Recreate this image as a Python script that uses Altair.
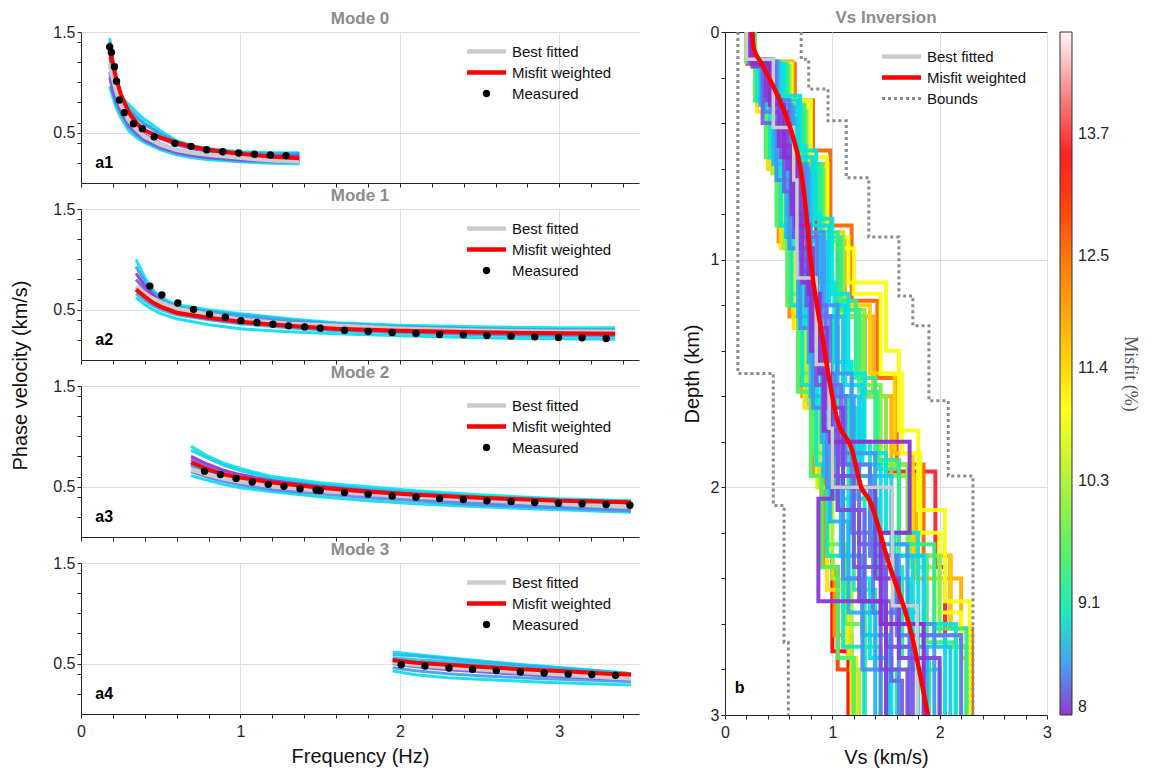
import altair as alt
import pandas as pd

FONT = "Liberation Sans"
SERIF = "Liberation Serif"

# ---------------- colour bar (misfit %) ----------------
MISFIT_STOPS = [8.0, 8.3, 8.6, 8.8, 9.1, 9.6, 10.3, 11.0, 11.4, 12.0, 12.5, 13.1, 13.35, 13.7, 14.2, 14.7]
MISFIT_COLORS = ["#8e2fd0", "#6a6ef0", "#27b4f0", "#00e5e5", "#20e8a8", "#50f060", "#b4f030", "#ffff10",
                 "#ffd700", "#ff9d00", "#ff7000", "#ff2a00", "#ff0000", "#f5333a", "#f89898", "#fff5f5"]
MISFIT_TICKS = [8, 9.1, 10.3, 11.4, 12.5, 13.7]

# ---------------- Mode 0 ----------------
M0_FREQ = [0.18, 0.2, 0.22, 0.25, 0.3, 0.35, 0.4, 0.5, 0.6, 0.7, 0.8, 1.0, 1.2, 1.37]
M0_ENS_MISFIT = [8.8, 8.6, 8.1, 8.0, 8.4, 8.75, 8.5, 8.2]
M0_ENS = [
    [1.44, 1.20, 1.00, 0.86, 0.78, 0.70, 0.63, 0.52, 0.42, 0.37, 0.34, 0.31, 0.30, 0.30],
    [1.38, 1.15, 0.98, 0.82, 0.72, 0.64, 0.58, 0.48, 0.40, 0.35, 0.32, 0.29, 0.28, 0.28],
    [1.40, 1.22, 1.05, 0.88, 0.70, 0.60, 0.53, 0.44, 0.38, 0.34, 0.31, 0.28, 0.27, 0.27],
    [1.30, 1.10, 0.95, 0.80, 0.64, 0.55, 0.48, 0.39, 0.33, 0.29, 0.27, 0.24, 0.23, 0.225],
    [1.10, 0.95, 0.84, 0.72, 0.58, 0.50, 0.44, 0.36, 0.30, 0.27, 0.25, 0.22, 0.21, 0.205],
    [0.96, 0.85, 0.75, 0.65, 0.52, 0.45, 0.40, 0.33, 0.28, 0.25, 0.23, 0.21, 0.195, 0.19],
    [1.25, 1.08, 0.96, 0.84, 0.74, 0.66, 0.59, 0.49, 0.41, 0.36, 0.33, 0.30, 0.29, 0.29],
    [1.05, 0.90, 0.80, 0.70, 0.56, 0.48, 0.42, 0.35, 0.30, 0.27, 0.25, 0.23, 0.22, 0.215],
]
M0_BEST = [1.19, 1.05, 0.92, 0.78, 0.62, 0.53, 0.46, 0.38, 0.33, 0.30, 0.28, 0.25, 0.225, 0.215]
M0_WEIGHTED = [1.32, 1.18, 1.04, 0.88, 0.70, 0.59, 0.52, 0.45, 0.40, 0.36, 0.33, 0.29, 0.26, 0.245]
M0_MEAS_F = [0.180, 0.191, 0.210, 0.223, 0.241, 0.271, 0.329, 0.385, 0.459, 0.589, 0.690, 0.788,
             0.889, 0.989, 1.088, 1.188, 1.286]
M0_MEAS_V = [1.351, 1.298, 1.156, 1.010, 0.825, 0.699, 0.589, 0.540, 0.460, 0.394, 0.364, 0.330,
             0.311, 0.298, 0.285, 0.278, 0.272]

# ---------------- Mode 1 ----------------
M1_FREQ = [0.345, 0.4, 0.45, 0.5, 0.6, 0.8, 1.0, 1.3, 1.6, 2.0, 2.5, 3.0, 3.35]
M1_ENS_MISFIT = [8.8, 8.5, 8.0, 8.2, 8.6, 8.75, 8.65, 8.3]
M1_ENS = [
    [1.00, 0.82, 0.70, 0.62, 0.55, 0.50, 0.46, 0.41, 0.37, 0.345, 0.33, 0.32, 0.32],
    [0.93, 0.78, 0.68, 0.60, 0.53, 0.48, 0.44, 0.39, 0.36, 0.33, 0.31, 0.30, 0.30],
    [0.86, 0.74, 0.65, 0.58, 0.51, 0.45, 0.41, 0.37, 0.34, 0.31, 0.29, 0.28, 0.275],
    [0.80, 0.70, 0.62, 0.56, 0.49, 0.43, 0.39, 0.35, 0.32, 0.30, 0.28, 0.27, 0.265],
    [0.66, 0.59, 0.54, 0.50, 0.45, 0.40, 0.36, 0.32, 0.29, 0.27, 0.25, 0.24, 0.235],
    [0.62, 0.55, 0.50, 0.46, 0.41, 0.35, 0.31, 0.28, 0.26, 0.24, 0.22, 0.21, 0.207],
    [0.72, 0.66, 0.60, 0.56, 0.52, 0.48, 0.45, 0.40, 0.36, 0.33, 0.31, 0.30, 0.295],
    [0.70, 0.62, 0.56, 0.52, 0.46, 0.41, 0.37, 0.33, 0.30, 0.28, 0.26, 0.25, 0.245],
]
M1_BEST = [0.73, 0.66, 0.61, 0.57, 0.51, 0.45, 0.40, 0.36, 0.34, 0.31, 0.29, 0.28, 0.28]
M1_WEIGHTED = [0.70, 0.63, 0.57, 0.53, 0.47, 0.42, 0.38, 0.34, 0.31, 0.29, 0.275, 0.265, 0.26]
M1_MEAS_F = [0.432, 0.507, 0.607, 0.706, 0.806, 0.905, 1.003, 1.103, 1.204, 1.302, 1.403, 1.501,
             1.653, 1.801, 1.952, 2.101, 2.249, 2.398, 2.546, 2.698, 2.846, 2.995, 3.143, 3.294]
M1_MEAS_V = [0.734, 0.645, 0.566, 0.503, 0.454, 0.424, 0.391, 0.372, 0.355, 0.339, 0.329, 0.316,
             0.296, 0.283, 0.273, 0.263, 0.253, 0.250, 0.243, 0.237, 0.230, 0.224, 0.220, 0.214]

# ---------------- Mode 2 ----------------
M2_FREQ = [0.69, 0.8, 0.9, 1.0, 1.2, 1.5, 1.8, 2.1, 2.5, 3.0, 3.45]
M2_ENS_MISFIT = [8.8, 8.7, 8.0, 8.2, 8.5, 8.4, 8.75, 8.6]
M2_ENS = [
    [0.90, 0.80, 0.73, 0.68, 0.60, 0.54, 0.50, 0.46, 0.42, 0.38, 0.36],
    [0.86, 0.78, 0.71, 0.66, 0.58, 0.52, 0.48, 0.44, 0.40, 0.37, 0.35],
    [0.80, 0.72, 0.66, 0.62, 0.56, 0.50, 0.46, 0.42, 0.38, 0.34, 0.32],
    [0.77, 0.69, 0.63, 0.59, 0.54, 0.48, 0.44, 0.41, 0.37, 0.33, 0.31],
    [0.72, 0.65, 0.60, 0.56, 0.51, 0.46, 0.42, 0.38, 0.34, 0.30, 0.28],
    [0.65, 0.59, 0.55, 0.52, 0.47, 0.43, 0.39, 0.36, 0.32, 0.29, 0.26],
    [0.61, 0.56, 0.52, 0.49, 0.45, 0.40, 0.36, 0.33, 0.30, 0.27, 0.245],
    [0.70, 0.66, 0.62, 0.59, 0.55, 0.51, 0.47, 0.44, 0.40, 0.37, 0.35],
]
M2_BEST = [0.67, 0.62, 0.58, 0.55, 0.51, 0.46, 0.43, 0.40, 0.37, 0.33, 0.30]
M2_WEIGHTED = [0.74, 0.67, 0.62, 0.59, 0.54, 0.49, 0.45, 0.42, 0.39, 0.36, 0.345]
M2_MEAS_F = [0.775, 0.875, 0.973, 1.074, 1.175, 1.273, 1.374, 1.475, 1.501, 1.653, 1.801, 1.952,
             2.101, 2.249, 2.398, 2.546, 2.698, 2.846, 2.995, 3.143, 3.294, 3.443]
M2_MEAS_V = [0.654, 0.621, 0.582, 0.546, 0.523, 0.503, 0.480, 0.467, 0.461, 0.441, 0.425, 0.408,
             0.395, 0.382, 0.372, 0.359, 0.352, 0.343, 0.336, 0.330, 0.323, 0.316]

# ---------------- Mode 3 ----------------
M3_FREQ = [1.955, 2.1, 2.3, 2.5, 2.7, 2.9, 3.1, 3.3, 3.45]
M3_ENS_MISFIT = [8.8, 8.6, 8.0, 8.2, 8.5, 8.75, 8.65]
M3_ENS = [
    [0.615, 0.59, 0.56, 0.53, 0.50, 0.475, 0.45, 0.425, 0.40],
    [0.59, 0.575, 0.55, 0.52, 0.495, 0.47, 0.445, 0.42, 0.40],
    [0.54, 0.51, 0.48, 0.455, 0.435, 0.415, 0.395, 0.375, 0.36],
    [0.50, 0.47, 0.44, 0.42, 0.40, 0.38, 0.365, 0.35, 0.34],
    [0.46, 0.43, 0.40, 0.38, 0.365, 0.35, 0.34, 0.33, 0.32],
    [0.428, 0.39, 0.36, 0.345, 0.33, 0.315, 0.305, 0.295, 0.287],
    [0.56, 0.54, 0.52, 0.50, 0.48, 0.46, 0.44, 0.42, 0.40],
]
M3_BEST = [0.516, 0.49, 0.465, 0.445, 0.425, 0.405, 0.385, 0.365, 0.352]
M3_WEIGHTED = [0.533, 0.51, 0.49, 0.47, 0.45, 0.435, 0.42, 0.40, 0.392]
M3_MEAS_F = [2.008, 2.157, 2.308, 2.456, 2.605, 2.756, 2.905, 3.056, 3.204, 3.353]
M3_MEAS_V = [0.490, 0.477, 0.457, 0.444, 0.431, 0.418, 0.408, 0.398, 0.392, 0.385]

# ---------------- Vs inversion (layered models) ----------------
MODEL_MISFIT = [8.00, 8.05, 8.10, 8.20, 8.25, 8.35, 8.45, 8.50, 8.60, 8.70, 8.85, 8.95, 9.05,
                9.15, 9.30, 9.60, 9.90, 10.2, 10.9, 11.3, 11.5, 12.2, 12.6, 13.3, 13.6, 14.2,
                8.15, 8.30, 8.40, 8.55, 8.65, 8.75, 8.80, 8.90, 9.00, 9.20, 9.40, 9.80, 10.0,
                10.6, 11.0, 11.8, 12.9]
MODEL_DEPTHS = [
    [0, 0.14, 0.32, 0.55, 0.85, 1.15, 1.5, 1.8, 2.2, 2.6, 3.0],
    [0, 0.12, 0.28, 0.5, 0.8, 1.1, 1.4, 1.75, 2.05, 2.5, 3.0],
    [0, 0.15, 0.35, 0.6, 0.95, 1.3, 1.65, 2.0, 2.4, 2.75, 3.0],
    [0, 0.13, 0.3, 0.55, 0.9, 1.2, 1.55, 1.95, 2.35, 2.7, 3.0],
    [0, 0.14, 0.4, 0.7, 1.0, 1.35, 1.7, 2.1, 2.5, 2.85, 3.0],
    [0, 0.13, 0.3, 0.6, 0.9, 1.25, 1.6, 1.9, 2.3, 2.65, 3.0],
    [0, 0.15, 0.35, 0.65, 0.95, 1.3, 1.65, 2.0, 2.4, 2.8, 3.0],
    [0, 0.12, 0.32, 0.58, 0.88, 1.2, 1.5, 1.85, 2.25, 2.6, 3.0],
    [0, 0.14, 0.3, 0.5, 0.8, 1.1, 1.45, 1.8, 2.15, 2.55, 3.0],
    [0, 0.13, 0.38, 0.62, 0.92, 1.25, 1.6, 1.95, 2.3, 2.7, 3.0],
    [0, 0.14, 0.28, 0.52, 0.82, 1.15, 1.5, 1.85, 2.2, 2.6, 3.0],
    [0, 0.12, 0.3, 0.55, 0.85, 1.2, 1.55, 1.9, 2.3, 2.7, 3.0],
    [0, 0.15, 0.35, 0.6, 0.9, 1.25, 1.6, 2.0, 2.35, 2.75, 3.0],
    [0, 0.13, 0.3, 0.6, 0.95, 1.3, 1.7, 2.05, 2.45, 2.8, 3.0],
    [0, 0.14, 0.33, 0.58, 0.88, 1.18, 1.52, 1.88, 2.25, 2.62, 3.0],
    [0, 0.13, 0.3, 0.55, 0.85, 1.2, 1.58, 1.95, 2.35, 2.75, 3.0],
    [0, 0.15, 0.35, 0.6, 0.9, 1.22, 1.55, 1.9, 2.3, 2.65, 3.0],
    [0, 0.12, 0.32, 0.62, 0.95, 1.28, 1.62, 2.0, 2.4, 2.8, 3.0],
    [0, 0.14, 0.3, 0.55, 0.9, 1.1, 1.4, 1.75, 2.1, 2.5, 3.0],
    [0, 0.13, 0.35, 0.6, 0.95, 1.3, 1.65, 2.0, 2.45, 2.75, 3.0],
    [0, 0.15, 0.32, 0.58, 0.88, 1.2, 1.5, 1.85, 2.3, 2.6, 3.0],
    [0, 0.13, 0.32, 0.6, 0.92, 1.25, 1.6, 1.95, 2.35, 2.65, 3.0],
    [0, 0.14, 0.3, 0.52, 0.85, 1.18, 1.52, 1.9, 2.3, 2.62, 3.0],
    [0, 0.13, 0.3, 0.55, 0.85, 1.2, 1.55, 1.9, 2.3, 2.72, 3.0],
    [0, 0.14, 0.32, 0.6, 0.9, 1.25, 1.6, 1.93, 2.35, 2.7, 3.0],
    [0, 0.15, 0.38, 0.62, 0.95, 1.3, 1.65, 2.0, 2.4, 3.0],
    [0, 0.13, 0.3, 0.5, 0.75, 1.05, 1.4, 1.75, 2.1, 2.5, 2.8, 3.0],
    [0, 0.14, 0.35, 0.6, 0.9, 1.2, 1.55, 1.9, 2.25, 2.6, 3.0],
    [0, 0.12, 0.3, 0.55, 0.85, 1.15, 1.5, 1.85, 2.2, 2.55, 3.0],
    [0, 0.15, 0.33, 0.6, 0.9, 1.25, 1.6, 1.95, 2.3, 2.7, 3.0],
    [0, 0.13, 0.32, 0.58, 0.9, 1.25, 1.6, 1.95, 2.3, 2.65, 3.0],
    [0, 0.14, 0.3, 0.55, 0.85, 1.2, 1.55, 1.9, 2.3, 2.65, 3.0],
    [0, 0.13, 0.35, 0.62, 0.95, 1.3, 1.65, 2.0, 2.4, 2.75, 3.0],
    [0, 0.12, 0.3, 0.5, 0.8, 1.1, 1.45, 1.8, 2.2, 2.55, 3.0],
    [0, 0.15, 0.38, 0.65, 0.95, 1.3, 1.65, 2.05, 2.4, 2.8, 3.0],
    [0, 0.13, 0.3, 0.55, 0.88, 1.2, 1.55, 1.9, 2.3, 2.7, 3.0],
    [0, 0.14, 0.32, 0.58, 0.9, 1.22, 1.58, 1.92, 2.3, 2.68, 3.0],
    [0, 0.13, 0.3, 0.55, 0.85, 1.15, 1.5, 1.85, 2.25, 2.6, 3.0],
    [0, 0.15, 0.35, 0.6, 0.92, 1.25, 1.6, 1.95, 2.35, 2.7, 3.0],
    [0, 0.13, 0.3, 0.55, 0.85, 1.2, 1.55, 1.9, 2.3, 2.7, 3.0],
    [0, 0.14, 0.32, 0.6, 0.95, 1.15, 1.5, 1.85, 2.2, 2.55, 3.0],
    [0, 0.13, 0.3, 0.58, 0.9, 1.25, 1.6, 1.95, 2.4, 2.75, 3.0],
    [0, 0.14, 0.3, 0.55, 0.9, 1.2, 1.55, 1.9, 2.35, 2.8, 3.0],
]
MODEL_VS = [
    [0.25, 0.42, 0.55, 0.66, 0.78, 0.88, 0.98, 1.72, 1.45, 1.85],
    [0.22, 0.38, 0.50, 0.62, 0.72, 0.80, 0.92, 1.00, 0.87, 1.50],
    [0.26, 0.45, 0.58, 0.70, 0.82, 0.95, 1.10, 1.40, 1.62, 2.00],
    [0.24, 0.40, 0.52, 0.64, 0.76, 0.85, 1.00, 1.20, 1.50, 1.75],
    [0.25, 0.35, 0.55, 0.68, 0.80, 0.92, 1.05, 1.30, 1.55, 1.65],
    [0.23, 0.48, 0.60, 0.74, 0.86, 0.98, 1.12, 1.35, 1.60, 2.20],
    [0.26, 0.36, 0.48, 0.60, 0.70, 0.82, 0.95, 1.10, 1.28, 1.45],
    [0.22, 0.44, 0.62, 0.76, 0.92, 1.05, 1.18, 1.40, 1.70, 1.95],
    [0.24, 0.34, 0.46, 0.58, 0.68, 0.78, 0.90, 0.98, 1.15, 1.40],
    [0.25, 0.50, 0.66, 0.80, 0.95, 1.10, 1.25, 1.55, 1.85, 2.10],
    [0.26, 0.55, 0.70, 0.85, 1.00, 1.15, 1.30, 1.50, 1.80, 2.15],
    [0.21, 0.30, 0.42, 0.52, 0.62, 0.72, 0.85, 0.95, 1.10, 1.30],
    [0.27, 0.46, 0.58, 0.72, 0.84, 1.00, 1.15, 1.30, 1.65, 1.90],
    [0.23, 0.40, 0.54, 0.66, 0.78, 0.92, 1.02, 1.20, 1.40, 1.60],
    [0.25, 0.58, 0.72, 0.88, 1.05, 1.22, 1.40, 1.62, 1.95, 2.25],
    [0.20, 0.28, 0.38, 0.48, 0.58, 0.68, 0.80, 0.90, 1.05, 1.20],
    [0.28, 0.60, 0.76, 0.92, 1.10, 1.30, 1.45, 1.70, 2.00, 2.20],
    [0.22, 0.32, 0.44, 0.55, 0.68, 0.76, 0.88, 1.00, 1.18, 1.25],
    [0.26, 0.62, 0.80, 0.95, 1.15, 1.50, 1.62, 1.80, 2.05, 2.28],
    [0.21, 0.30, 0.40, 0.52, 0.64, 0.74, 0.86, 0.95, 1.15, 1.22],
    [0.27, 0.55, 0.70, 0.88, 1.10, 1.35, 1.58, 1.75, 2.10, 2.15],
    [0.20, 0.30, 0.40, 0.50, 0.60, 0.72, 0.82, 0.92, 1.02, 1.18],
    [0.28, 0.65, 0.82, 0.98, 1.18, 1.42, 1.60, 1.85, 2.10, 2.30],
    [0.22, 0.30, 0.42, 0.55, 0.66, 0.74, 0.84, 0.92, 1.00, 1.15],
    [0.27, 0.50, 0.70, 0.85, 1.05, 1.30, 1.50, 1.96, 2.05, 2.30],
    [0.25, 0.40, 0.52, 0.62, 0.70, 0.78, 0.95, 1.10, 1.30],
    [0.24, 0.38, 0.52, 0.62, 0.72, 0.82, 0.92, 1.05, 1.25, 1.45, 1.70],
    [0.25, 0.43, 0.57, 0.69, 0.80, 0.94, 1.08, 1.25, 1.48, 1.72],
    [0.23, 0.39, 0.53, 0.66, 0.79, 0.90, 1.02, 1.18, 1.38, 1.62],
    [0.26, 0.47, 0.64, 0.78, 0.90, 1.04, 1.20, 1.38, 1.62, 1.88],
    [0.22, 0.33, 0.45, 0.57, 0.68, 0.80, 0.92, 1.08, 1.28, 1.52],
    [0.25, 0.52, 0.68, 0.82, 0.97, 1.12, 1.28, 1.45, 1.75, 2.05],
    [0.24, 0.37, 0.50, 0.62, 0.74, 0.86, 0.98, 1.15, 1.35, 1.55],
    [0.23, 0.45, 0.60, 0.75, 0.88, 1.02, 1.18, 1.35, 1.58, 1.80],
    [0.26, 0.50, 0.64, 0.76, 0.90, 1.05, 1.22, 1.42, 1.72, 2.00],
    [0.22, 0.34, 0.47, 0.60, 0.72, 0.84, 0.96, 1.10, 1.30, 1.45],
    [0.25, 0.56, 0.74, 0.90, 1.08, 1.25, 1.42, 1.62, 1.88, 2.15],
    [0.21, 0.29, 0.40, 0.50, 0.60, 0.70, 0.83, 0.95, 1.12, 1.30],
    [0.27, 0.58, 0.75, 0.90, 1.08, 1.28, 1.50, 1.72, 1.95, 2.25],
    [0.22, 0.31, 0.42, 0.53, 0.65, 0.73, 0.85, 0.96, 1.12, 1.18],
    [0.26, 0.60, 0.76, 0.92, 1.20, 1.45, 1.65, 1.82, 2.00, 2.20],
    [0.27, 0.63, 0.80, 0.96, 1.12, 1.38, 1.55, 1.78, 2.20, 2.25],
    [0.21, 0.29, 0.40, 0.52, 0.62, 0.70, 0.82, 0.90, 1.05, 1.20],
]
BEST_DEPTHS = [0, 0.12, 0.42, 0.65, 1.08, 1.46, 1.74, 2.0, 2.52, 3.0]
BEST_VS = [0.20, 0.45, 0.64, 0.67, 0.85, 0.97, 1.00, 1.56, 1.79]
WEIGHTED_DEPTH = [0, 0.075, 0.13, 0.29, 0.44, 0.59, 0.81, 0.97, 1.32, 1.71, 1.83, 2.0, 2.05, 2.34, 2.63, 3.0]
WEIGHTED_VS = [0.25, 0.27, 0.33, 0.50, 0.62, 0.70, 0.76, 0.79, 0.90, 1.05, 1.18, 1.27, 1.34, 1.53, 1.73, 1.89]
LOWER_DEPTHS = [0, 1.5, 2.08, 2.68, 3.0]
LOWER_VS = [0.12, 0.45, 0.55, 0.59]
UPPER_DEPTHS = [0, 0.12, 0.25, 0.39, 0.64, 0.90, 1.16, 1.29, 1.62, 1.95, 3.0]
UPPER_VS = [0.71, 0.78, 0.96, 1.13, 1.34, 1.62, 1.75, 1.90, 2.08, 2.31]

FREQ_TICKS = [round(0.2 * i, 1) for i in range(18)]
VS_TICKS = [round(0.2 * i, 1) for i in range(16)]
PV_TICKS = [0.2, 0.4, 0.5, 0.6, 0.8, 1.0, 1.2, 1.4, 1.5]

# legend symbols (unit = 5 px at size 100)
LINE_PATH = "M-3.9,-0.45H3.9V0.45H-3.9Z"
DOT_PATH = "M-0.75,0A0.75,0.75,0,1,0,0.75,0A0.75,0.75,0,1,0,-0.75,0Z"
DOTTED_PATH = " ".join(f"M{c - 0.3:.2f},-0.3h0.6v0.6h-0.6Z" for c in [-3.6, -2.4, -1.2, 0, 1.2, 2.4, 3.6])

misfit_scale = alt.Scale(domain=MISFIT_STOPS, range=MISFIT_COLORS, interpolate="rgb")
AX = dict(labelFont=FONT, titleFont=FONT, labelFontSize=16, titleFontSize=20, labelColor="#262626",
          titleColor="#111111", titleFontWeight="normal", domainColor="#262626", tickColor="#262626",
          tickSize=4, gridColor="#dedede", labelFlush=False)
INT_GRID = {"condition": {"test": "datum.value % 1 === 0 && datum.value > 0", "value": 1}, "value": 0}
INT_LABELS = "datum.value % 1 === 0 ? format(datum.value, 'd') : ''"
PV_GRID = {"condition": {"test": "datum.value === 0.5 || datum.value === 1.5", "value": 1}, "value": 0}
PV_LABELS = "(datum.value === 0.5 || datum.value === 1.5) ? format(datum.value, '.1f') : ''"
TITLE_KW = dict(font=FONT, fontSize=17, fontWeight="bold", color="#8c8c8c", offset=-4)


def legend_layer(labels, colors, shapes, xenc, yenc, lx, ly):
    leg = alt.Legend(title=None, orient="none", legendX=lx, legendY=ly, labelFont=FONT, labelFontSize=15,
                     labelColor="#111111", labelOffset=18, rowPadding=5, padding=0, symbolStrokeWidth=0,
                     symbolSize=100, symbolOpacity=1)
    df = pd.DataFrame({"series": labels})
    return alt.Chart(df).mark_point(filled=True, size=100, opacity=1, strokeWidth=0).encode(
        x=xenc, y=yenc,
        color=alt.Color("series:N", scale=alt.Scale(domain=labels, range=colors), legend=leg),
        shape=alt.Shape("series:N", scale=alt.Scale(domain=labels, range=shapes), legend=leg),
    )


def mode_panel(n, freq, ens_mis, ens, best, wtd, mf, mv, letter, bottom, ytitle):
    order = sorted(range(len(ens)), key=lambda j: -ens_mis[j])
    rows = []
    for r, j in enumerate(order):
        for k, f in enumerate(freq):
            rows.append({"cid": f"c{r:02d}", "misfit": ens_mis[j], "f": f, "v": ens[j][k]})
    ens_df = pd.DataFrame(rows)
    best_df = pd.DataFrame({"f": freq, "v": best})
    wtd_df = pd.DataFrame({"f": freq, "v": wtd})
    meas_df = pd.DataFrame({"f": mf, "v": mv})

    xs = alt.Scale(domain=[0, 3.5], nice=False)
    ys = alt.Scale(domain=[0, 1.5], nice=False)
    xaxis = alt.Axis(values=FREQ_TICKS, labelExpr=INT_LABELS, labels=bottom, labelPadding=5,
                     title="Frequency (Hz)" if bottom else "", titlePadding=7,
                     grid=True, gridOpacity=INT_GRID, **AX)
    ykw = dict(values=PV_TICKS, labelExpr=PV_LABELS, grid=True, gridOpacity=PV_GRID, **AX)
    if ytitle:
        yaxis = alt.Axis(title="Phase velocity (km/s)", titleY=166, titlePadding=22, **ykw)
    else:
        yaxis = alt.Axis(title="", **ykw)
    X = alt.X("f:Q", scale=xs, axis=xaxis)
    Y = alt.Y("v:Q", scale=ys, axis=yaxis)

    ens_l = alt.Chart(ens_df).mark_line(strokeWidth=3, opacity=0.9).encode(
        x=X, y=Y, color=alt.Color("misfit:Q", scale=misfit_scale, legend=None), detail="cid:N")
    best_l = alt.Chart(best_df).mark_line(color="#cccccc", strokeWidth=4.5).encode(x=X, y=Y)
    wtd_l = alt.Chart(wtd_df).mark_line(color="#ff0000", strokeWidth=4).encode(x=X, y=Y)
    meas_l = alt.Chart(meas_df).mark_circle(size=55, color="black", opacity=1).encode(x=X, y=Y)
    txt = alt.Chart(pd.DataFrame({"f": [0.09], "v": [0.2], "t": [letter]})).mark_text(
        align="left", baseline="middle", font=FONT, fontSize=16, fontWeight="bold", color="black").encode(
        x=X, y=Y, text="t:N")
    leg = legend_layer(["Best fitted", "Misfit weighted", "Measured"], ["#cccccc", "#ff0000", "#000000"],
                       [LINE_PATH, LINE_PATH, DOT_PATH], X, Y, 398, 12)
    return alt.layer(ens_l, best_l, wtd_l, meas_l, txt, leg).resolve_scale(
        color="independent", shape="independent").properties(
        width=558, height=151, title=alt.TitleParams(f"Mode {n}", **TITLE_KW))


p0 = mode_panel(0, M0_FREQ, M0_ENS_MISFIT, M0_ENS, M0_BEST, M0_WEIGHTED, M0_MEAS_F, M0_MEAS_V, "a1", False, False)
p1 = mode_panel(1, M1_FREQ, M1_ENS_MISFIT, M1_ENS, M1_BEST, M1_WEIGHTED, M1_MEAS_F, M1_MEAS_V, "a2", False, True)
p2 = mode_panel(2, M2_FREQ, M2_ENS_MISFIT, M2_ENS, M2_BEST, M2_WEIGHTED, M2_MEAS_F, M2_MEAS_V, "a3", False, False)
p3 = mode_panel(3, M3_FREQ, M3_ENS_MISFIT, M3_ENS, M3_BEST, M3_WEIGHTED, M3_MEAS_F, M3_MEAS_V, "a4", True, False)


def step_rows(depths, vs, key, extra):
    out = []
    k = 0
    for i, v in enumerate(vs):
        for d in (depths[i], depths[i + 1]):
            row = {"id": key, "vs": v, "depth": d, "k": k}
            row.update(extra)
            out.append(row)
            k += 1
    return out


m_order = sorted(range(len(MODEL_MISFIT)), key=lambda j: -MODEL_MISFIT[j])
mrows = []
for r, j in enumerate(m_order):
    mrows += step_rows(MODEL_DEPTHS[j], MODEL_VS[j], f"m{r:02d}", {"misfit": MODEL_MISFIT[j]})
models_df = pd.DataFrame(mrows)
best_df = pd.DataFrame(step_rows(BEST_DEPTHS, BEST_VS, "best", {}))
wtd_df = pd.DataFrame({"vs": WEIGHTED_VS, "depth": WEIGHTED_DEPTH, "k": list(range(len(WEIGHTED_VS)))})
bounds_df = pd.DataFrame(step_rows(LOWER_DEPTHS, LOWER_VS, "lower", {}) + step_rows(UPPER_DEPTHS, UPPER_VS, "upper", {}))

vx = alt.Scale(domain=[0, 3], nice=False)
vy = alt.Scale(domain=[0, 3], nice=False, reverse=True)
VX = alt.X("vs:Q", scale=vx, axis=alt.Axis(values=VS_TICKS, labelExpr=INT_LABELS, title="Vs (km/s)",
                                           labelPadding=5, titlePadding=7, grid=True, gridOpacity=INT_GRID, **AX))
VY = alt.Y("depth:Q", scale=vy, axis=alt.Axis(values=VS_TICKS, labelExpr=INT_LABELS, title="Depth (km)",
                                              titlePadding=8, grid=True, gridOpacity=INT_GRID, **AX))
colorbar = alt.Legend(title="Misfit (%)", orient="right", offset=13, direction="vertical", type="gradient",
                      gradientLength=683, gradientThickness=12, gradientStrokeColor="#262626",
                      gradientStrokeWidth=1, values=MISFIT_TICKS, format="~g", labelFont=FONT,
                      labelFontSize=16, labelColor="#262626", labelOverlap=False, labelOffset=6,
                      titleOrient="right", titleFont=SERIF, titleFontSize=18,
                      titleFontWeight="normal", titleColor="#555555", titleAnchor="middle", titlePadding=12)

ens_r = alt.Chart(models_df).mark_line(strokeWidth=4, opacity=0.95).encode(
    x=VX, y=VY, color=alt.Color("misfit:Q", scale=misfit_scale, legend=colorbar), detail="id:N", order="k:Q")
bounds_r = alt.Chart(bounds_df).mark_line(color="#8c8c8c", strokeWidth=3, strokeDash=[3, 3]).encode(
    x=VX, y=VY, detail="id:N", order="k:Q")
best_r = alt.Chart(best_df).mark_line(color="#cccccc", strokeWidth=3.5).encode(x=VX, y=VY, order="k:Q")
wtd_r = alt.Chart(wtd_df).mark_line(color="#ff0000", strokeWidth=4.5, interpolate="monotone").encode(
    x=VX, y=VY, order="k:Q")
txt_r = alt.Chart(pd.DataFrame({"vs": [0.09], "depth": [2.88], "t": ["b"]})).mark_text(
    align="left", baseline="middle", font=FONT, fontSize=16, fontWeight="bold", color="black").encode(
    x=VX, y=VY, text="t:N")
leg_r = legend_layer(["Best fitted", "Misfit weighted", "Bounds"], ["#cccccc", "#ff0000", "#8c8c8c"],
                     [LINE_PATH, LINE_PATH, DOTTED_PATH], VX, VY, 169, 17)

right = alt.layer(ens_r, bounds_r, best_r, wtd_r, txt_r, leg_r).resolve_scale(
    color="independent", shape="independent").properties(
    width=322, height=683,
    view=alt.ViewBackground(stroke="#262626", strokeWidth=1),
    title=alt.TitleParams("Vs Inversion", **TITLE_KW))

left = alt.vconcat(p0, p1, p2, p3, spacing=26, bounds="flush").resolve_scale(
    color="independent", shape="independent")

chart = alt.hconcat(left, right, spacing=40).resolve_scale(
    color="independent", shape="independent").properties(
    padding={"left": 2, "top": 0, "right": 0, "bottom": 0}
).configure_view(stroke=None)

chart.save("out.html", embed_options={"renderer": "svg", "actions": False})
